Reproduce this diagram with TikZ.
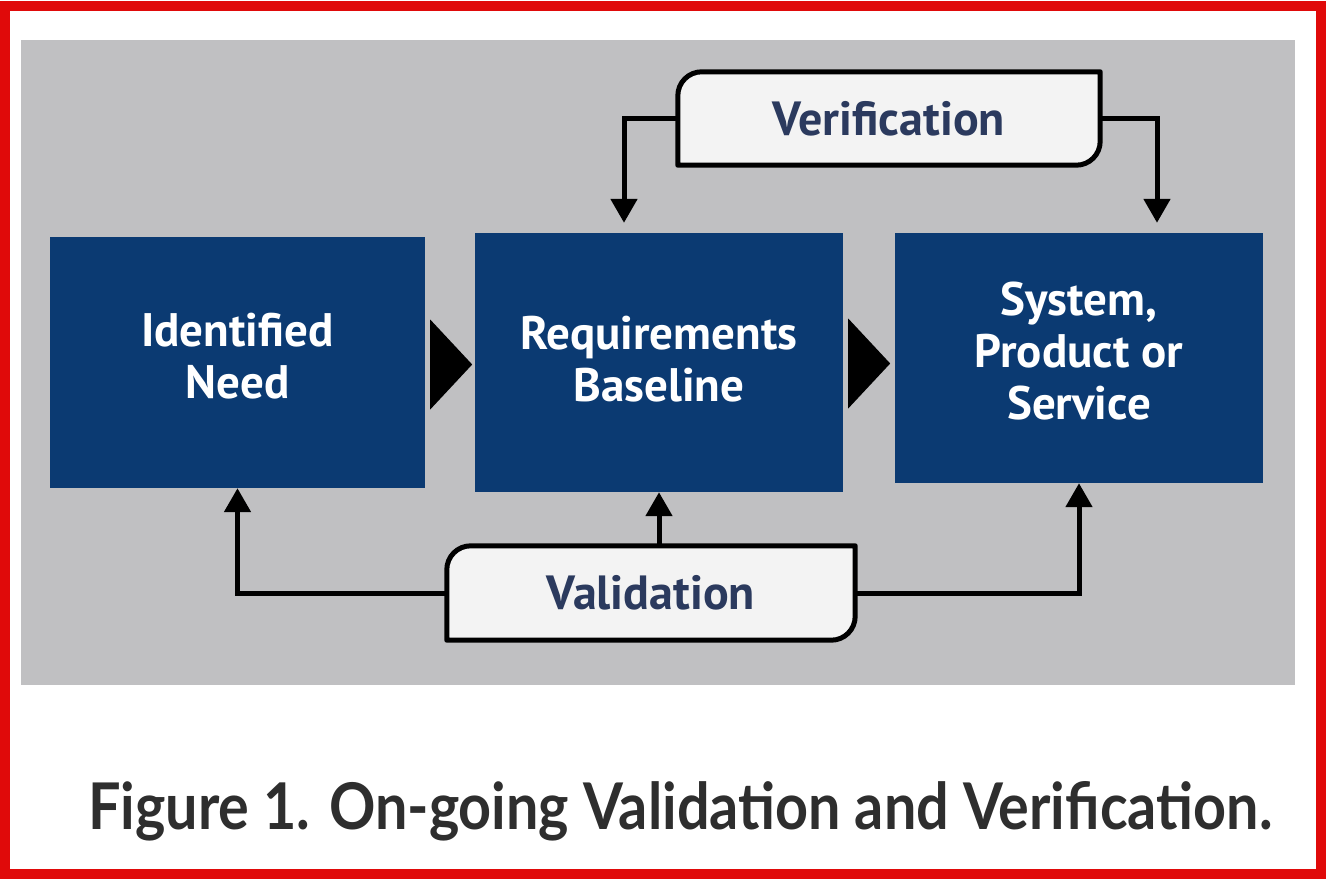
\documentclass[tikz,border=0pt]{standalone}
\usepackage{fontspec}
\usepackage{graphicx}
\setmainfont{PT Sans}
\newfontfamily\capfont{Lato}
\usetikzlibrary{arrows.meta,calc}
\definecolor{navy}{HTML}{0B3A72}
\definecolor{bggray}{HTML}{C0C0C2}
\definecolor{labelblue}{HTML}{2B3A5E}
\definecolor{framered}{HTML}{E00A0A}
\definecolor{captext}{HTML}{2E2E2E}
\definecolor{labelfill}{HTML}{F3F3F3}
\pgfdeclarelayer{bottom}
\pgfdeclarelayer{mid}
\pgfsetlayers{bottom,mid,main}
\begin{document}
\begin{tikzpicture}[x=1pt,y=-1pt,
  stage/.style={rectangle, fill=navy, inner sep=0pt},
  stagetext/.style={text=white, inner sep=0pt, align=center,
    font=\bfseries\fontsize{47}{52}\selectfont},
  tag/.style={inner sep=0pt, text=labelblue, font=\bfseries\fontsize{48}{50}\selectfont},
  flow/.style={line width=5pt, -{Triangle[width=26pt,length=24pt]}},
  tagline/.style={fill=labelfill, line width=5pt, line join=round}]
\useasboundingbox (0,0) rectangle (1326,879);
\begin{pgfonlayer}{bottom}
\draw[framered, line width=10pt, fill=white] (5,6) rectangle (1321,874);
\fill[bggray] (21,40) rectangle (1295,685);
\end{pgfonlayer}
% stages
\node[stage, minimum width=375pt, minimum height=251pt] (need) at (237.5,362.5) {};
\node[stage, minimum width=368pt, minimum height=259pt] (req) at (659,362.5) {};
\node[stage, minimum width=368pt, minimum height=250pt] (sys) at (1079,358) {};
\node[stagetext] (needtext) at ([yshift=6pt]need.center) {Identified\\Need};
\node[stagetext] (reqtext) at ([yshift=3pt]req.center) {Requirements\\Baseline};
\node[stagetext] (systext) at ([yshift=7pt]sys.center) {System,\\Product or\\Service};
% black triangles between stages
\fill ($(need.east)+(5,-43)$) -- ($(need.east)+(5,47)$) -- ($(need.east)+(47,2)$) -- cycle;
\fill ($(req.east)+(5,-44)$) -- ($(req.east)+(5,46)$) -- ($(req.east)+(47,1)$) -- cycle;
% label boxes
\node[tag, minimum width=422pt, minimum height=93pt] (ver) at (889,118.5) {Verification};
\node[tag, minimum width=408pt, minimum height=94pt] (val) at (651,593) {Validation};
\begin{pgfonlayer}{mid}
\filldraw[tagline] (ver.south west) -- ([yshift=-24pt]ver.north west)
  .. controls ([yshift=-10.7pt]ver.north west) and ([xshift=10.7pt]ver.north west) .. ([xshift=24pt]ver.north west)
  -- (ver.north east) -- ([yshift=24pt]ver.south east)
  .. controls ([yshift=10.7pt]ver.south east) and ([xshift=-10.7pt]ver.south east) .. ([xshift=-24pt]ver.south east) -- cycle;
\filldraw[tagline] (val.south west) -- ([yshift=-24pt]val.north west)
  .. controls ([yshift=-10.7pt]val.north west) and ([xshift=10.7pt]val.north west) .. ([xshift=24pt]val.north west)
  -- (val.north east) -- ([yshift=24pt]val.south east)
  .. controls ([yshift=10.7pt]val.south east) and ([xshift=-10.7pt]val.south east) .. ([xshift=-24pt]val.south east) -- cycle;
\end{pgfonlayer}
% connectors
\draw[flow] (ver.west) -| ([xshift=-35pt,yshift=10pt]req.north);
\draw[flow] (ver.east) -| ([xshift=78pt,yshift=10pt]sys.north);
\draw[flow] ([xshift=8pt]val.north) -- (req.south);
\draw[flow] (val.west) -| (need.south);
\draw[flow] (val.east) -| (sys.south);
% caption
\node[anchor=base west, inner sep=0pt, text=captext, font=\capfont\bfseries] (cap) at (88,829)
  {\resizebox{1184pt}{48pt}{Figure 1. On-going Validation and Verification.}};
\end{tikzpicture}
\end{document}
